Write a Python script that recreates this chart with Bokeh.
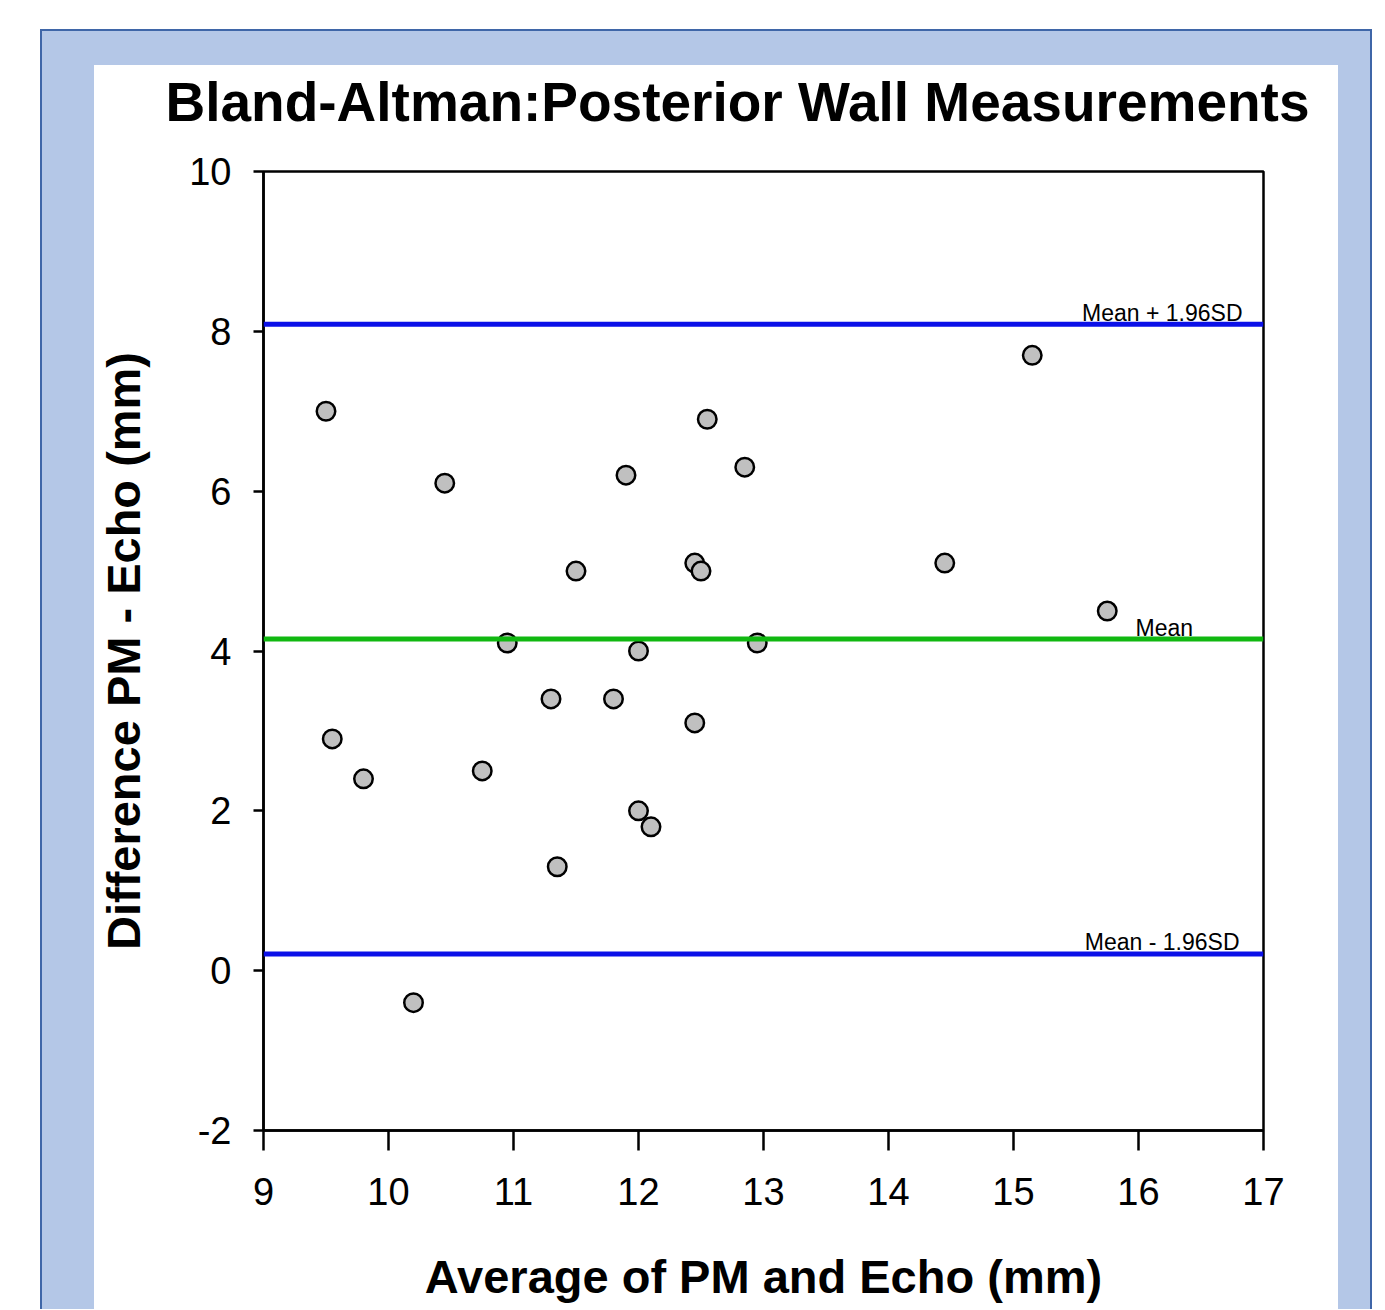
from bokeh.plotting import figure
from bokeh.models import Range1d, FixedTicker, Span, Label, PrintfTickFormatter
from bokeh.embed import file_html
from bokeh.resources import INLINE

# ---------------- data ----------------
avg_mm = [9.50, 9.55, 9.80, 10.20, 10.45, 10.75, 10.95, 11.30, 11.35, 11.50,
          11.80, 11.90, 12.00, 12.00, 12.10, 12.45, 12.50, 12.45, 12.55, 12.85,
          12.95, 14.45, 15.15, 15.75]
diff_mm = [7.0, 2.9, 2.4, -0.4, 6.1, 2.5, 4.1, 3.4, 1.3, 5.0,
           3.4, 6.2, 4.0, 2.0, 1.8, 5.1, 5.0, 3.1, 6.9, 6.3,
           4.1, 5.1, 7.7, 4.5]
mean_diff = 4.15
upper_loa = 8.09
lower_loa = 0.21
x_ticks = [9, 10, 11, 12, 13, 14, 15, 16, 17]
y_ticks = [-2, 0, 2, 4, 6, 8, 10]
title_text = "Bland-Altman:Posterior Wall Measurements"
x_label = "Average of PM and Echo (mm)"
y_label = "Difference PM - Echo (mm)"
upper_text = "Mean + 1.96SD"
mean_text = "Mean"
lower_text = "Mean - 1.96SD"

FONT = "Liberation Sans"
LIGHT = "#b4c7e7"
DARK = "#3f66a8"

p = figure(frame_width=1000, frame_height=959,
           min_border_left=263, min_border_right=121,
           min_border_top=171, min_border_bottom=179,
           x_range=Range1d(9, 17), y_range=Range1d(-2, 10),
           output_backend="svg", toolbar_location=None,
           background_fill_color="white", border_fill_color=None)

# page decoration (light-blue frame with dark outline around a white panel)
p.styles = {
    "background-image": ("linear-gradient(#ffffff,#ffffff), "
                         f"linear-gradient({LIGHT},{LIGHT}), "
                         f"linear-gradient({DARK},{DARK})"),
    "background-position": "94px 65px, 42px 31px, 40px 29px",
    "background-size": "1244px 1400px, 1328px 1400px, 1332px 1400px",
    "background-repeat": "no-repeat",
    "background-color": "#ffffff",
}

p.title.text = title_text
p.title.text_font = FONT
p.title.text_font_size = "55px"
p.title.text_font_style = "bold"
p.title.text_color = "black"
p.title.align = "left"
p.title.offset = -98
p.title.standoff = 77

p.grid.visible = False
p.outline_line_color = "black"
p.outline_line_width = 2.5
p.outline_line_alpha = 1

for ax in (p.xaxis[0], p.yaxis[0]):
    ax.axis_line_color = "black"
    ax.axis_line_width = 2.5
    ax.major_tick_line_color = "black"
    ax.major_tick_line_width = 2.5
    ax.major_tick_in = 0
    ax.minor_tick_line_color = None
    ax.major_label_text_font = FONT
    ax.major_label_text_font_size = "38px"
    ax.major_label_text_color = "black"
    ax.axis_label_text_font = FONT
    ax.axis_label_text_font_size = "47px"
    ax.axis_label_text_font_style = "bold"
    ax.axis_label_text_color = "black"
    ax.formatter = PrintfTickFormatter(format="%d")

p.xaxis.ticker = FixedTicker(ticks=x_ticks)
p.yaxis.ticker = FixedTicker(ticks=y_ticks)
p.xaxis.major_tick_out = 20
p.yaxis.major_tick_out = 10
p.xaxis.major_label_standoff = 27
p.yaxis.major_label_standoff = 22
p.xaxis.axis_label = x_label
p.yaxis.axis_label = y_label
p.xaxis.axis_label_standoff = 42
p.yaxis.axis_label_standoff = 36

# limits of agreement and mean difference
p.add_layout(Span(location=upper_loa, dimension="width", line_color="#0b10e8", line_width=5))
p.add_layout(Span(location=lower_loa, dimension="width", line_color="#0b10e8", line_width=5))
p.add_layout(Span(location=mean_diff, dimension="width", line_color="#10b810", line_width=5))

p.scatter(avg_mm, diff_mm, marker="circle", size=18.5,
          fill_color="#c0c0c0", line_color="black", line_width=2.5)

p.add_layout(Label(x=17, y=upper_loa, x_offset=-21, y_offset=11, text=upper_text,
                   text_align="right", text_baseline="alphabetic",
                   text_font=FONT, text_font_size="23px", text_color="black"))
p.add_layout(Label(x=17, y=mean_diff, x_offset=-128, y_offset=11, text=mean_text,
                   text_align="left", text_baseline="alphabetic",
                   text_font=FONT, text_font_size="23px", text_color="black"))
p.add_layout(Label(x=17, y=lower_loa, x_offset=-24, y_offset=12, text=lower_text,
                   text_align="right", text_baseline="alphabetic",
                   text_font=FONT, text_font_size="23px", text_color="black"))

open("out.html", "w").write(file_html(p, INLINE))
